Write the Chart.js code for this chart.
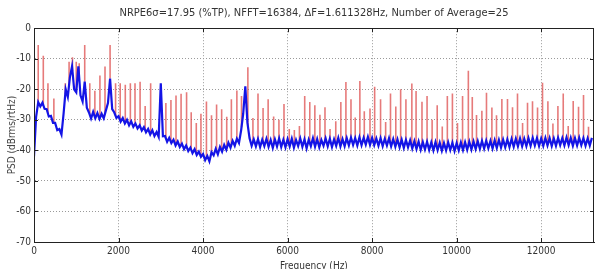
<!DOCTYPE html>
<html>
<head>
<meta charset="utf-8">
<script src="https://cdn.jsdelivr.net/npm/chart.js@4/dist/chart.umd.min.js"></script>
<style>
  html, body { margin: 0; padding: 0; background: #fff; }
  #wrap { width: 595px; height: 269px; }
</style>
</head>
<body>
<div id="wrap"><canvas id="myChart"></canvas></div>
<script>
// PSD estimate, one value every 50 Hz starting at 0 Hz (dBrms/rtHz)
const psdStartHz = 0
const psdStepHz = 50
const psdValues = [
    -42, -29, -24.2, -25.6, -24.4, -26.4, -26.5, -28.9, -28.7, -31,
    -31, -33.4, -33, -34.8, -28, -20, -22.5, -16, -12.5, -20,
    -21, -12.5, -22, -24, -17.5, -26, -27.6, -29.6, -27.4, -29.5,
    -27.8, -29.7, -28, -29.5, -27, -24.5, -16.5, -26.5, -27.6, -29.4,
    -28.8, -30.6, -29.4, -31.2, -30, -31.8, -30.5, -32.3, -31.2, -32.8,
    -31.8, -33.5, -32.4, -34.1, -33, -34.8, -33.4, -35.3, -34, -35.6,
    -18, -35.4, -35.3, -37.2, -35.9, -37.6, -36.5, -38.4, -37.1, -38.9,
    -37.8, -39.6, -38.4, -40.2, -39.1, -40.9, -39.6, -41.5, -40.4, -42.1,
    -41.2, -43.2, -41.8, -43.6, -40.6, -41.6, -39.5, -41.3, -38.9, -40.4,
    -38.2, -39.8, -37.5, -39.1, -36.9, -38.5, -36.2, -37.6, -33.5, -28,
    -19, -31, -36, -38.5, -36.4, -38.7, -36.3, -38.9, -36.5, -38.6,
    -36.2, -38.8, -36.6, -39.2, -36.4, -38.7, -36.1, -38.9, -36.5, -39,
    -36.3, -38.7, -36.2, -39.1, -36.6, -38.6, -36.1, -38.8, -36.4, -39.3,
    -36.5, -38.6, -36, -38.8, -36.3, -39, -36.6, -38.5, -36.1, -38.7,
    -36.2, -38.9, -36.4, -38.5, -35.9, -38.7, -36.3, -38.6, -36, -38.4,
    -35.8, -38.2, -36, -38.4, -35.7, -38.3, -35.9, -38.1, -35.6, -38.2,
    -35.9, -38.3, -36.1, -38.5, -36, -38.6, -36.2, -38.4, -36, -38.7,
    -36.3, -38.8, -36.4, -39, -36.5, -39.2, -36.6, -39, -36.7, -39.4,
    -37, -39.6, -37.1, -39.8, -37.3, -39.7, -37.2, -39.9, -37.4, -40,
    -37.3, -39.9, -37.5, -40.1, -37.6, -40, -37.4, -39.9, -37.5, -40.2,
    -37.6, -40, -37.4, -39.9, -37.3, -39.8, -37.2, -39.7, -37.1, -39.6,
    -37, -39.5, -36.9, -39.4, -36.8, -39.3, -36.9, -39.4, -36.7, -39.2,
    -36.6, -39.1, -36.5, -39, -36.4, -38.9, -36.3, -38.8, -36.2, -38.7,
    -36.1, -38.7, -36.2, -38.6, -36, -38.5, -35.9, -38.4, -36, -38.6,
    -36.1, -38.5, -35.9, -38.4, -36, -38.6, -36.1, -38.5, -35.9, -38.3,
    -36, -38.4, -35.8, -38.3, -35.9, -38.5, -36, -38.4, -35.9, -38.3,
    -36, -38.5, -36.1, -38.4, -35.9
]

// tonal spikes (red): frequency (Hz) and peak level (dB)
const spikeFreqs = [
    100, 220, 330, 470, 740, 830, 910, 1000, 1070, 1200,
    1320, 1440, 1560, 1680, 1800, 1930, 2040, 2160, 2280, 2390,
    2510, 2630, 2760, 3120, 3240, 3360, 3480, 3610, 3720, 3840,
    3950, 4080, 4200, 4320, 4440, 4560, 4670, 4800, 4910, 5060,
    5180, 5300, 5420, 5540, 5670, 5795, 5915, 6040, 6160, 6280,
    6405, 6525, 6645, 6765, 6885, 7005, 7140, 7260, 7380, 7500,
    7600, 7710, 7815, 7950, 8060, 8200, 8320, 8435, 8560, 8675,
    8800, 8940, 9040, 9180, 9300, 9420, 9540, 9660, 9780, 9900,
    10020, 10140, 10277, 10370, 10470, 10597, 10706, 10834, 10943, 11070,
    11203, 11322, 11440, 11560, 11677, 11795, 11914, 12032, 12159, 12278,
    12396, 12522, 12640, 12758, 12884, 13002, 13120
]
const spikeTops = [
    -5.5, -9, -18, -23, -18, -11, -9.5, -11, -11.5, -5.5,
    -18, -20.5, -15.5, -12.5, -5.5, -18, -18, -18.5, -18, -18,
    -17.5, -25.5, -18, -24.5, -23.5, -22, -21.5, -21, -27.5, -31,
    -28, -24, -28.5, -25, -26.5, -29, -23.3, -20.4, -22.2, -12.8,
    -29.4, -21.4, -26.1, -23.3, -28.9, -30, -24.8, -33, -33.3, -32,
    -22.2, -24.2, -25.2, -28.3, -25.9, -33, -30.5, -24.2, -17.6, -23.3,
    -29.2, -17.3, -27.2, -26.3, -19.2, -23.3, -30.7, -21.4, -25.6, -20,
    -23.3, -18.1, -20.6, -24.1, -22.2, -30, -25.2, -32.2, -22.2, -21.4,
    -31, -22.2, -13.9, -22.5, -28.4, -27, -21.1, -26, -28.5, -23.2,
    -23.2, -25.9, -21.4, -31, -24.4, -23.9, -26, -17.9, -23.9, -31.2,
    -25.5, -21.4, -32, -23.8, -25.7, -21.9, -32.3
]

const xTickValues = [0, 2000, 4000, 6000, 8000, 10000, 12000]

const titleText = 'NRPE6\u03c3=17.95 (%TP), NFFT=16384, \u0394F=1.611328Hz, Number of Average=25'
const xTitle = 'Frequency (Hz)'
const yTitle = 'PSD (dBrms/rtHz)'

const axisFont = "'Liberation Sans Narrow', 'DejaVu Sans Condensed', 'Liberation Sans', sans-serif"

// psd as x/y points
let psdPoints = []
for (let i = 0; i < psdValues.length; i++) {
    psdPoints.push({x: psdStartHz + i * psdStepHz, y: psdValues[i]})
}

// level of the psd under a spike, so the red line starts on the blue band
function psdAt(f) {
    let pos = (f - psdStartHz) / psdStepHz
    let i = Math.floor(pos)
    if (i >= psdValues.length - 1) return psdValues[psdValues.length - 1]
    let t = pos - i
    return psdValues[i] * (1 - t) + psdValues[i + 1] * t
}

let spikePoints = []
for (let i = 0; i < spikeFreqs.length; i++) {
    spikePoints.push({x: spikeFreqs[i], y: psdAt(spikeFreqs[i])})
    spikePoints.push({x: spikeFreqs[i], y: spikeTops[i]})
    spikePoints.push({x: spikeFreqs[i], y: null})
}

// box round the plot plus short inward ticks, matlab style
const framePlugin = {
    id: 'frame',
    afterDatasetsDraw(chart) {
        const a = chart.chartArea
        const c = chart.ctx
        const xs = chart.scales.x
        const ys = chart.scales.y
        const len = 4
        c.save()
        c.strokeStyle = '#222'
        c.lineWidth = 1
        c.strokeRect(Math.round(a.left) + 0.5, Math.round(a.top) + 0.5,
            Math.round(a.right - a.left) - 1, Math.round(a.bottom - a.top))
        c.beginPath()
        xs.ticks.forEach((t) => {
            let px = Math.round(xs.getPixelForValue(t.value)) + 0.5
            c.moveTo(px, a.top)
            c.lineTo(px, a.top + len)
            c.moveTo(px, a.bottom)
            c.lineTo(px, a.bottom - len)
        })
        ys.ticks.forEach((t) => {
            let py = Math.round(ys.getPixelForValue(t.value)) + 0.5
            c.moveTo(a.left, py)
            c.lineTo(a.left + len, py)
            c.moveTo(a.right, py)
            c.lineTo(a.right - len, py)
        })
        c.stroke()
        c.restore()
    }
}

const ctx = document.getElementById('myChart')
const myChart = new Chart(ctx, {
    type: 'line',
    data: {
        datasets: [{
            label: 'PSD',
            data: psdPoints,
            borderColor: '#1414e6',
            borderWidth: 2.2,
            pointRadius: 0,
            tension: 0,
            order: 1
        }, {
            label: 'tones',
            data: spikePoints,
            borderColor: 'rgba(220, 70, 70, 0.72)',
            borderWidth: 1.6,
            pointRadius: 0,
            spanGaps: false,
            order: 2
        }]
    },
    options: {
        responsive: true,
        maintainAspectRatio: false,
        animation: false,
        layout: {padding: {left: 0, right: 1, top: 0, bottom: 0}},
        plugins: {
            legend: {display: false},
            tooltip: {enabled: false},
            title: {
                display: true,
                text: titleText,
                fullSize: false,
                color: '#333',
                font: {family: axisFont, size: 11, weight: 'normal'},
                padding: {top: 7, bottom: 8}
            }
        },
        scales: {
            x: {
                type: 'linear',
                min: 0,
                max: 13250,
                afterBuildTicks: (scale) => {
                    scale.ticks = xTickValues.map((v) => ({value: v}))
                },
                ticks: {
                    maxRotation: 0,
                    autoSkip: false,
                    color: '#333',
                    padding: 3,
                    font: {family: axisFont, size: 10},
                    callback: (v) => String(v)
                },
                grid: {color: '#9a9a9a', drawTicks: false},
                border: {display: true, color: '#222', width: 1, dash: [1, 2]},
                title: {
                    display: true,
                    text: xTitle,
                    color: '#333',
                    font: {family: axisFont, size: 10},
                    padding: {top: 0, bottom: -3}
                },
                afterFit: (scale) => { scale.height = 27 }
            },
            y: {
                min: -70,
                max: 0,
                ticks: {
                    stepSize: 10,
                    color: '#333',
                    padding: 3,
                    font: {family: axisFont, size: 10}
                },
                grid: {color: '#9a9a9a', drawTicks: false},
                border: {display: true, color: '#222', width: 1, dash: [1, 2]},
                title: {
                    display: true,
                    text: yTitle,
                    color: '#444',
                    font: {family: axisFont, size: 10},
                    padding: {top: 6, bottom: 0}
                },
                afterFit: (scale) => { scale.width = 34 }
            }
        }
    },
    plugins: [framePlugin]
})
</script>
</body>
</html>
